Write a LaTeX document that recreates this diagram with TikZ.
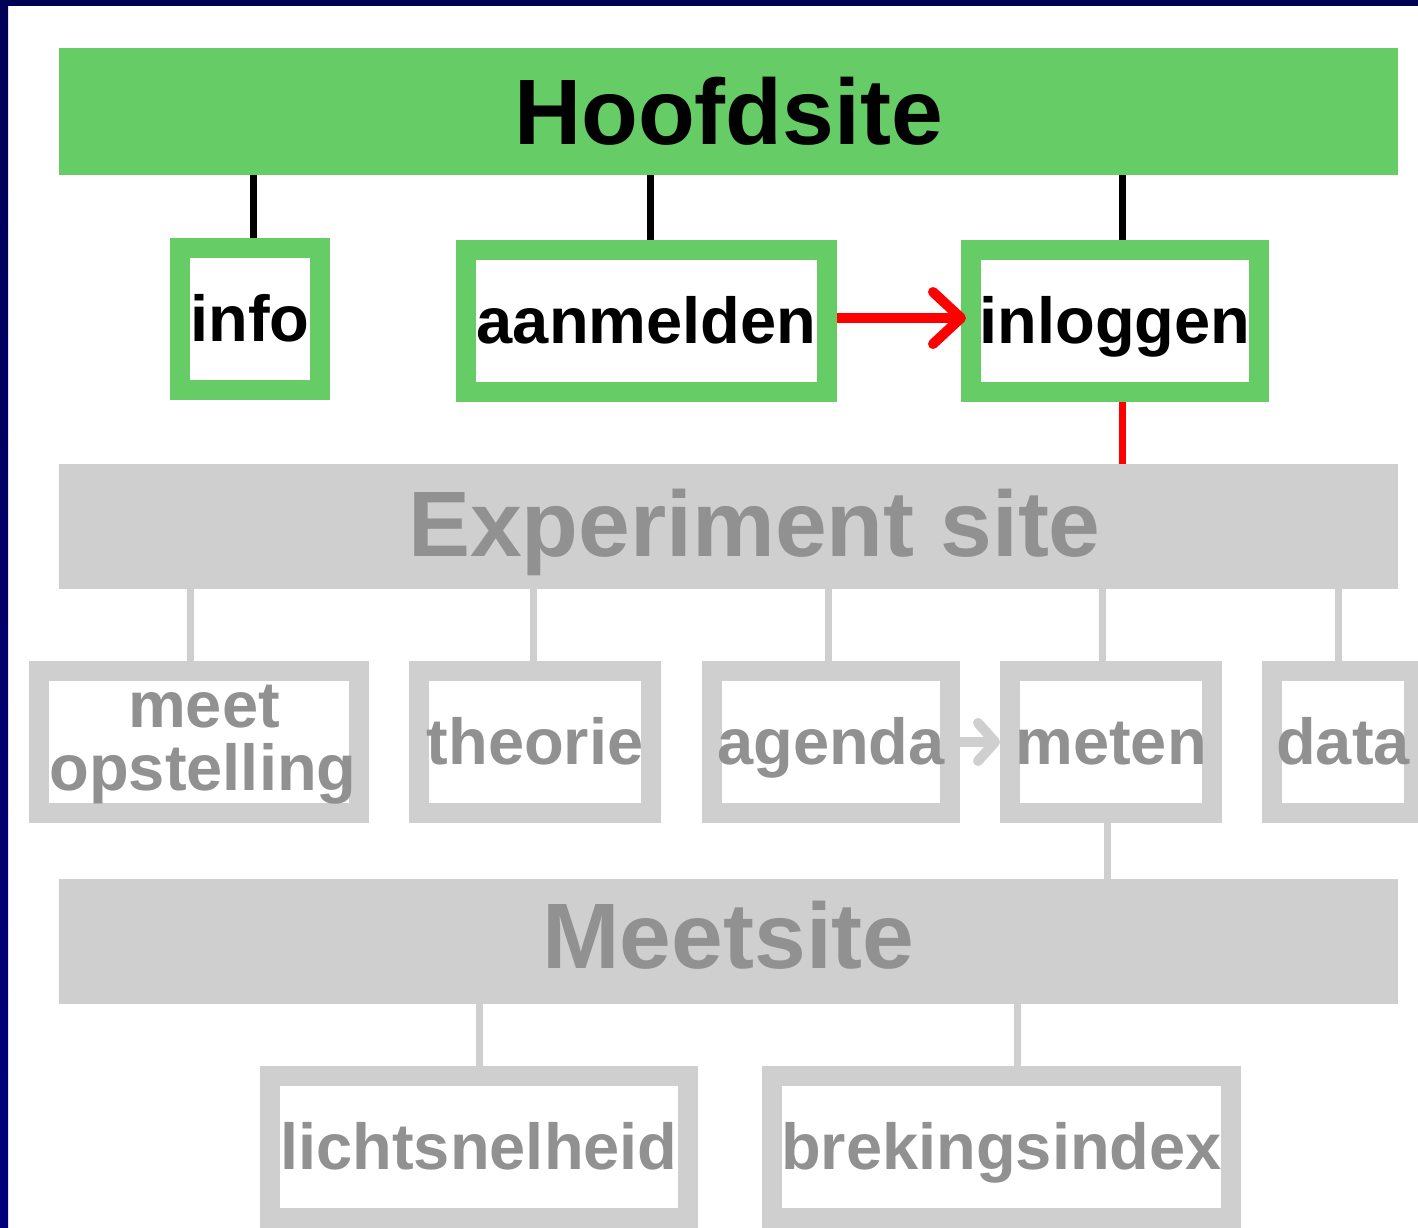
\documentclass[tikz,border=0pt]{standalone}
\usepackage{fontspec}
\setmainfont{Liberation Sans}
\usetikzlibrary{arrows.meta,calc}
\definecolor{hgreen}{RGB}{102,204,102}
\definecolor{lgray}{RGB}{207,207,207}
\definecolor{tgray}{RGB}{145,145,145}
\definecolor{navyA}{RGB}{0,0,85}
\definecolor{navyB}{RGB}{0,0,125}
\begin{document}
\begin{tikzpicture}[x=1pt,y=-1pt,
  bar/.style={rectangle,inner sep=0pt,outer sep=0pt,minimum width=1339pt,
    font=\fontsize{93}{93}\selectfont\bfseries,text height=68pt},
  greenbar/.style={bar,fill=hgreen,text=black},
  graybar/.style={bar,fill=lgray,text=tgray},
  pagebox/.style={rectangle,inner sep=0pt,line width=20pt,minimum height=142pt,
    fill=white,font=\fontsize{65}{64}\selectfont\bfseries,text height=47pt,text depth=3pt},
  greenbox/.style={pagebox,draw=hgreen,text=black},
  graybox/.style={pagebox,draw=lgray,text=tgray},
  blackline/.style={line width=7pt,draw=black},
  redline/.style={line width=7pt,draw=red},
  grayline/.style={line width=7pt,draw=lgray},
]
\useasboundingbox (0,0) rectangle (1418,1228);
\clip (0,0) rectangle (1418,1228);
\fill[white] (0,0) rectangle (1418,1228);
% frame
\shade[top color=navyA,bottom color=navyB] (0,0) rectangle (8,1228);
\fill[navyA] (0,0) rectangle (1418,6);

% bars
\node[greenbar,minimum height=127pt,text depth=3pt] (hoofd) at (728.5,111.5) {Hoofdsite};
\node[graybar,minimum height=125pt,text depth=9pt] (exp) at (728.5,526.5) {\hspace*{52pt}Experiment site};
\node[graybar,minimum height=125pt,text depth=15pt] (meets) at (728.5,941.5) {Meetsite};

% top row
\node[greenbox,minimum width=140pt] (info) at (250,319) {info};
\node[greenbox,minimum width=361pt] (aanm) at (646.5,321) {aanmelden};
\node[greenbox,minimum width=288pt] (inlog) at (1115,321) {inloggen};

% middle row
\node[graybox,minimum width=320pt,align=center,text height=110pt,text depth=14pt] (meetop) at (199,742) {\hspace*{10pt}meet\\[-1pt]\hspace*{8pt}opstelling};
\node[graybox,minimum width=232pt] (theorie) at (535,742) {theorie};
\node[graybox,minimum width=238pt] (agenda) at (831,742) {agenda};
\node[graybox,minimum width=202pt] (meten) at (1111,742) {meten};
\node[graybox,minimum width=142pt] (data) at (1343,742) {data};

% bottom row
\node[graybox,minimum width=418pt] (licht) at (479,1147) {lichtsnelheid};
\node[graybox,minimum width=459pt] (brek) at (1001.5,1147) {brekingsindex};

% connectors Hoofdsite
\draw[blackline] ([xshift=3pt]info.north) -- ([xshift=3pt]info.north |- hoofd.south);
\draw[blackline] ([xshift=3.5pt]aanm.north) -- ([xshift=3.5pt]aanm.north |- hoofd.south);
\draw[blackline] ([xshift=7pt]inlog.north) -- ([xshift=7pt]inlog.north |- hoofd.south);
% red
\draw[redline,line width=10pt,-{Straight Barb[length=28pt,width=52pt,round]}] ([yshift=3pt]aanm.east) -- ([yshift=3pt,xshift=5pt]inlog.west);
\draw[redline] ([xshift=7pt]inlog.south) -- ([xshift=7pt]inlog.south |- exp.north);
% experiment connectors
\draw[grayline] ([xshift=-9pt]meetop.north) -- ([xshift=-9pt]meetop.north |- exp.south);
\draw[grayline] ([xshift=-2pt]theorie.north) -- ([xshift=-2pt]theorie.north |- exp.south);
\draw[grayline] ([xshift=-3pt]agenda.north) -- ([xshift=-3pt]agenda.north |- exp.south);
\draw[grayline] ([xshift=-9pt]meten.north) -- ([xshift=-9pt]meten.north |- exp.south);
\draw[grayline] ([xshift=-5pt]data.north) -- ([xshift=-5pt]data.north |- exp.south);
\draw[grayline,line width=10pt,-{Straight Barb[length=17pt,width=38pt,round]}] (agenda.east) -- (meten.west);
% meetsite connectors
\draw[grayline] ([xshift=-4pt]meten.south) -- ([xshift=-4pt]meten.south |- meets.north);
\draw[grayline] (licht.north) -- (licht.north |- meets.south);
\draw[grayline] ([xshift=15.5pt]brek.north) -- ([xshift=15.5pt]brek.north |- meets.south);
\end{tikzpicture}
\end{document}
